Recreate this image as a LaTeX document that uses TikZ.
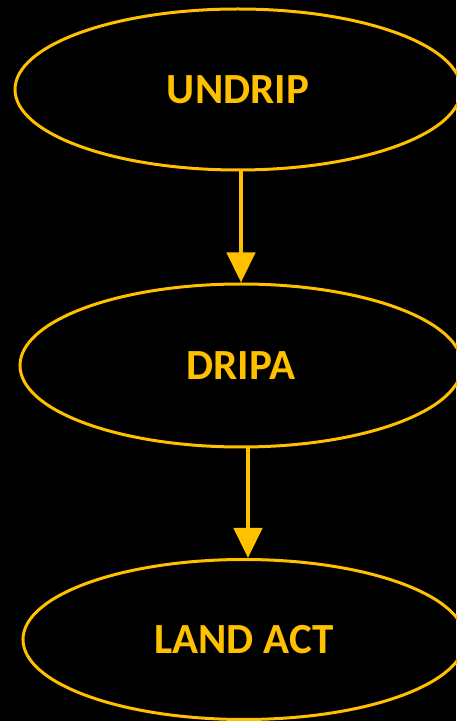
\documentclass[tikz,border=0pt]{standalone}
\usepackage{fontspec}
\setmainfont{Carlito}
\usetikzlibrary{shapes.geometric,arrows.meta}
\definecolor{gold}{HTML}{FFC000}
\tikzset{
  oval/.style={ellipse, draw=gold, line width=3pt, inner sep=0pt, text=gold, font=\bfseries\fontsize{43}{45}\selectfont},
  arr/.style={draw=gold, line width=4.5pt, -{Triangle[length=30pt,width=28pt]}}
}
\begin{document}
\begin{tikzpicture}[x=1pt,y=1pt]
\fill[black] (0,0) rectangle (456,721);
\useasboundingbox (0,0) rectangle (456,721);
\node[oval, minimum width=446pt, minimum height=161pt] (u) at (238,631.5) {UNDRIP};
\node[oval, minimum width=442pt, minimum height=163pt] (d) at (241,355.5) {DRIPA};
\node[oval, minimum width=442pt, minimum height=160pt] (l) at (244,81.5) {LAND ACT};
\coordinate (a1) at (241,0);
\coordinate (a2) at (248,0);
\draw[arr] (u.south -| a1) -- (d.north -| a1);
\draw[arr] (d.south -| a2) -- (l.north -| a2);
\end{tikzpicture}
\end{document}
